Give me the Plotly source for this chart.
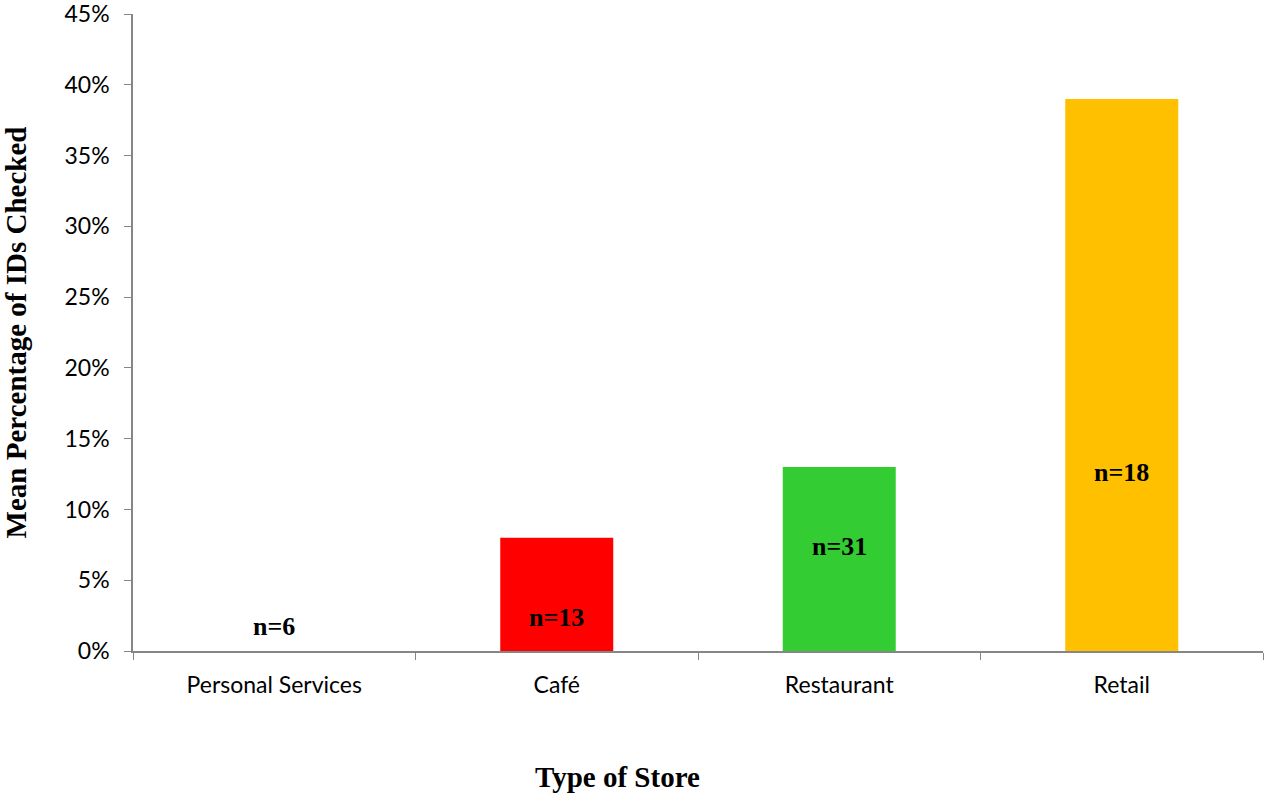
import plotly.graph_objects as go

categories = ["Personal Services", "Café", "Restaurant", "Retail"]
values = [0.0, 0.08, 0.13, 0.39]
bar_colors = ["#FFFFFF", "#FF0000", "#33CC33", "#FFC000"]
n_labels = ["n=6", "n=13", "n=31", "n=18"]
label_y = [0.017, 0.024, 0.074, 0.126]
y_ticks = [0, 0.05, 0.10, 0.15, 0.20, 0.25, 0.30, 0.35, 0.40, 0.45]

fig = go.Figure()
fig.add_trace(go.Bar(x=categories, y=values, marker=dict(color=bar_colors, line=dict(width=0)),
                     hoverinfo="skip"))

for c, t, yy in zip(categories, n_labels, label_y):
    fig.add_annotation(x=c, y=yy, text="<b>%s</b>" % t, showarrow=False, xref="x", yref="y",
                       font=dict(family="Liberation Serif", size=26, color="black"))

fig.add_annotation(x=(617 - 133) / (1265 - 135), y=(651 - 777) / (651 - 14),
                   xref="paper", yref="paper", text="<b>Type of Store</b>",
                   xanchor="center", yanchor="middle",
                   showarrow=False, font=dict(family="Liberation Serif", size=29, color="black"))

fig.update_layout(
    width=1265, height=796,
    margin=dict(l=133, r=2, t=14, b=145),
    paper_bgcolor="white", plot_bgcolor="white",
    bargap=0.6, showlegend=False,
    font=dict(family="Lato", size=23, color="black"),
    xaxis=dict(tickson="boundaries", ticks="outside", ticklen=7, tickcolor="#868686",
               showline=True, linecolor="#868686", linewidth=1.5, showgrid=False,
               tickfont=dict(size=23), ticklabelstandoff=13, automargin=False),
    yaxis=dict(range=[0, 0.45], tickvals=y_ticks, tickformat=".0%", ticks="outside", ticklen=7,
               tickcolor="#868686", showline=True, linecolor="#868686", linewidth=1.5,
               showgrid=False, zeroline=False, tickfont=dict(size=23), ticklabelstandoff=10,
               ticklabeloverflow="allow", automargin=False,
               title=dict(text="<b>Mean Percentage of IDs Checked</b>", standoff=30,
                          font=dict(family="Liberation Serif", size=29))),
)

fig.write_html("out.html")
